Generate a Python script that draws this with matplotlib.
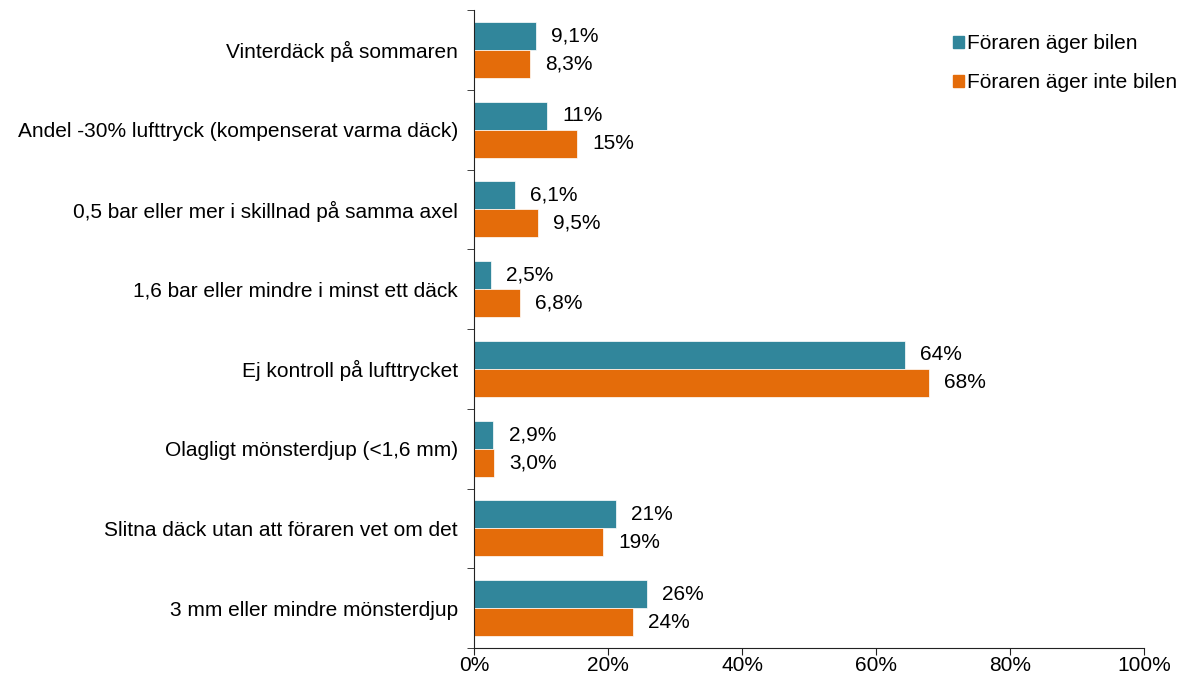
import matplotlib
matplotlib.use("Agg")
import matplotlib.pyplot as plt
from matplotlib.patches import Patch
import numpy as np

plt.rcParams['font.family'] = ['Liberation Sans', 'DejaVu Sans']

categories = [
    "Vinterdäck på sommaren",
    "Andel -30% lufttryck (kompenserat varma däck)",
    "0,5 bar eller mer i skillnad på samma axel",
    "1,6 bar eller mindre i minst ett däck",
    "Ej kontroll på lufttrycket",
    "Olagligt mönsterdjup (<1,6 mm)",
    "Slitna däck utan att föraren vet om det",
    "3 mm eller mindre mönsterdjup",
]
owner = [9.2, 10.9, 6.1, 2.5, 64.3, 2.9, 21.2, 25.8]
non_owner = [8.3, 15.4, 9.5, 6.8, 67.9, 3.0, 19.2, 23.7]
owner_labels = ["9,1%", "11%", "6,1%", "2,5%", "64%", "2,9%", "21%", "26%"]
non_owner_labels = ["8,3%", "15%", "9,5%", "6,8%", "68%", "3,0%", "19%", "24%"]
series_names = ["Föraren äger bilen", "Föraren äger inte bilen"]
xticks = [0, 20, 40, 60, 80, 100]
xtick_labels = ["0%", "20%", "40%", "60%", "80%", "100%"]

c_owner = "#31869B"
c_non = "#E46C0A"
fs = 15

fig = plt.figure(figsize=(11.81, 6.73), dpi=100)
ax = fig.add_axes([474/1181, 1-648/673, (1144-474)/1181, (648-10)/673])

n = len(categories)
y = np.arange(n)
h = 0.35
ax.barh(y - h/2, owner, height=h, color=c_owner, edgecolor="white", linewidth=0.5)
ax.barh(y + h/2, non_owner, height=h, color=c_non, edgecolor="white", linewidth=0.5)

off = 2.3
for yi, v, lab in zip(y, owner, owner_labels):
    ax.text(v + off, yi - h/2, lab, va="center", ha="left", fontsize=fs)
for yi, v, lab in zip(y, non_owner, non_owner_labels):
    ax.text(v + off, yi + h/2, lab, va="center", ha="left", fontsize=fs)

ax.set_ylim(n - 0.5, -0.5)
ax.set_xlim(0, 100)
ax.set_yticks(y)
ax.set_yticklabels(categories, fontsize=fs)
ax.tick_params(axis="y", length=0, pad=11.5)
ax.set_yticks(np.arange(-0.5, n, 1), minor=True)
ax.tick_params(axis="y", which="minor", length=5, direction="out", color="#222222")
ax.set_xticks(xticks)
ax.set_xticklabels(xtick_labels, fontsize=fs)
ax.tick_params(axis="x", length=5, direction="out", color="#222222", pad=0.5)

for s in ["top", "right"]:
    ax.spines[s].set_visible(False)
ax.spines["left"].set_color("#222222")
ax.spines["bottom"].set_color("#222222")

handles = [Patch(color=c_owner), Patch(color=c_non)]
fig.legend(handles, series_names, loc="upper left", bbox_to_anchor=(945/1181, 1-26/673),
           frameon=False, fontsize=fs, handlelength=0.5, handleheight=0.5,
           handletextpad=0.15, labelspacing=0.95, borderaxespad=0)

fig.savefig("out.png", dpi=100)
